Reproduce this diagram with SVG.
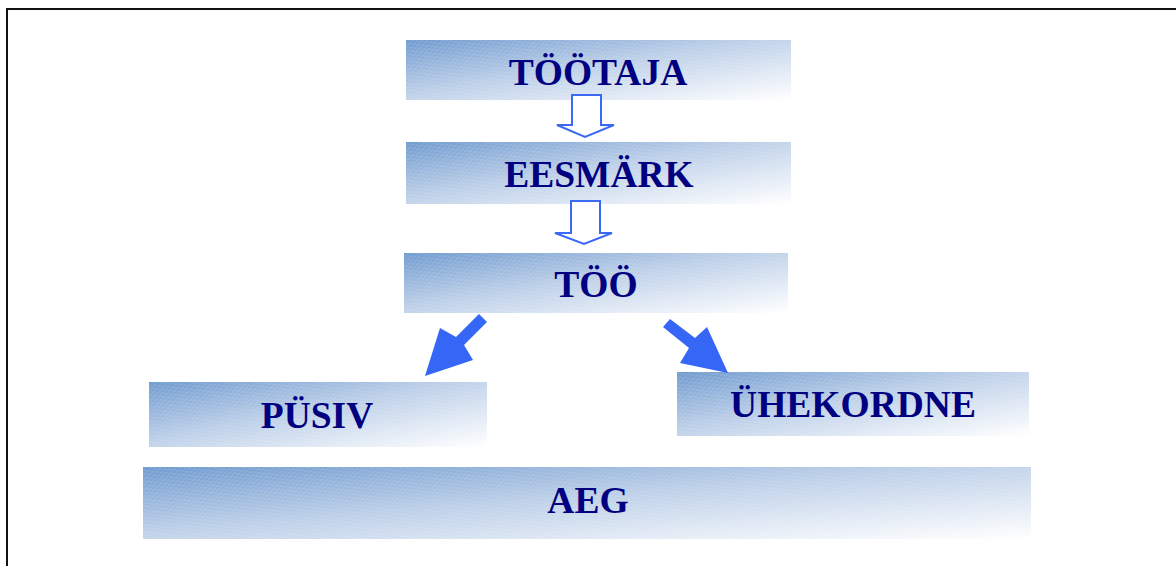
<svg xmlns="http://www.w3.org/2000/svg" width="1176" height="566" viewBox="0 0 1176 566">
<defs>
<linearGradient id="g" x1="0" y1="0" x2="1" y2="1">
<stop offset="0" stop-color="#6f9acf"/>
<stop offset="0.45" stop-color="#bccfe8"/>
<stop offset="1" stop-color="#ffffff"/>
</linearGradient>
<pattern id="tex" width="8" height="4" patternUnits="userSpaceOnUse" patternTransform="rotate(-20)">
<path d="M0 1 H4 M4 3 H8" stroke="#ffffff" stroke-width="1" stroke-opacity="0.22"/>
</pattern>
<style>
.box{fill:url(#g)}
.tx{fill:url(#tex)}
.lbl{font-family:"Liberation Serif","Times New Roman",serif;font-weight:bold;font-size:37.5px;fill:#000080;text-anchor:middle}
.hol{fill:#ffffff;stroke:#3a6af4;stroke-width:2;stroke-linejoin:miter}
.sol{fill:#3566f6}
</style>
</defs>
<rect width="1176" height="566" fill="#ffffff"/>
<path d="M7 566 V9 H1176" fill="none" stroke="#111111" stroke-width="2"/>

<g id="tootaja">
<rect class="box" x="406" y="40" width="385" height="60"/>
<rect class="tx" x="406" y="40" width="385" height="60"/>
<text class="lbl" x="598" y="85">TÖÖTAJA</text>
</g>
<g id="eesmark">
<rect class="box" x="406" y="142" width="385" height="62"/>
<rect class="tx" x="406" y="142" width="385" height="62"/>
<text class="lbl" x="599" y="187">EESMÄRK</text>
</g>
<g id="too">
<rect class="box" x="404" y="253" width="384" height="60"/>
<rect class="tx" x="404" y="253" width="384" height="60"/>
<text class="lbl" x="596" y="297">TÖÖ</text>
</g>
<g id="pusiv">
<rect class="box" x="149" y="382" width="338" height="65"/>
<rect class="tx" x="149" y="382" width="338" height="65"/>
<text class="lbl" x="317" y="428">PÜSIV</text>
</g>
<g id="uhekordne">
<rect class="box" x="677" y="372" width="352" height="64"/>
<rect class="tx" x="677" y="372" width="352" height="64"/>
<text class="lbl" x="853" y="417">ÜHEKORDNE</text>
</g>
<g id="aeg">
<rect class="box" x="143" y="467" width="888" height="72"/>
<rect class="tx" x="143" y="467" width="888" height="72"/>
<text class="lbl" x="588" y="513">AEG</text>
</g>

<g id="connectors">
<polygon class="hol" points="572,95 601,95 601,125 614,125 585,137 557,125 572,125"/>
<polygon class="hol" points="571,201 600,201 600,233 612,233 584,244 555,233 571,233"/>
<polygon class="sol" points="479,314 487,322 464,345 473,360 425,376 440,328 456,337"/>
<polygon class="sol" points="663,327 670,319 695,338 707,327 728,373 680,363 689,348"/>
</g>
</svg>
